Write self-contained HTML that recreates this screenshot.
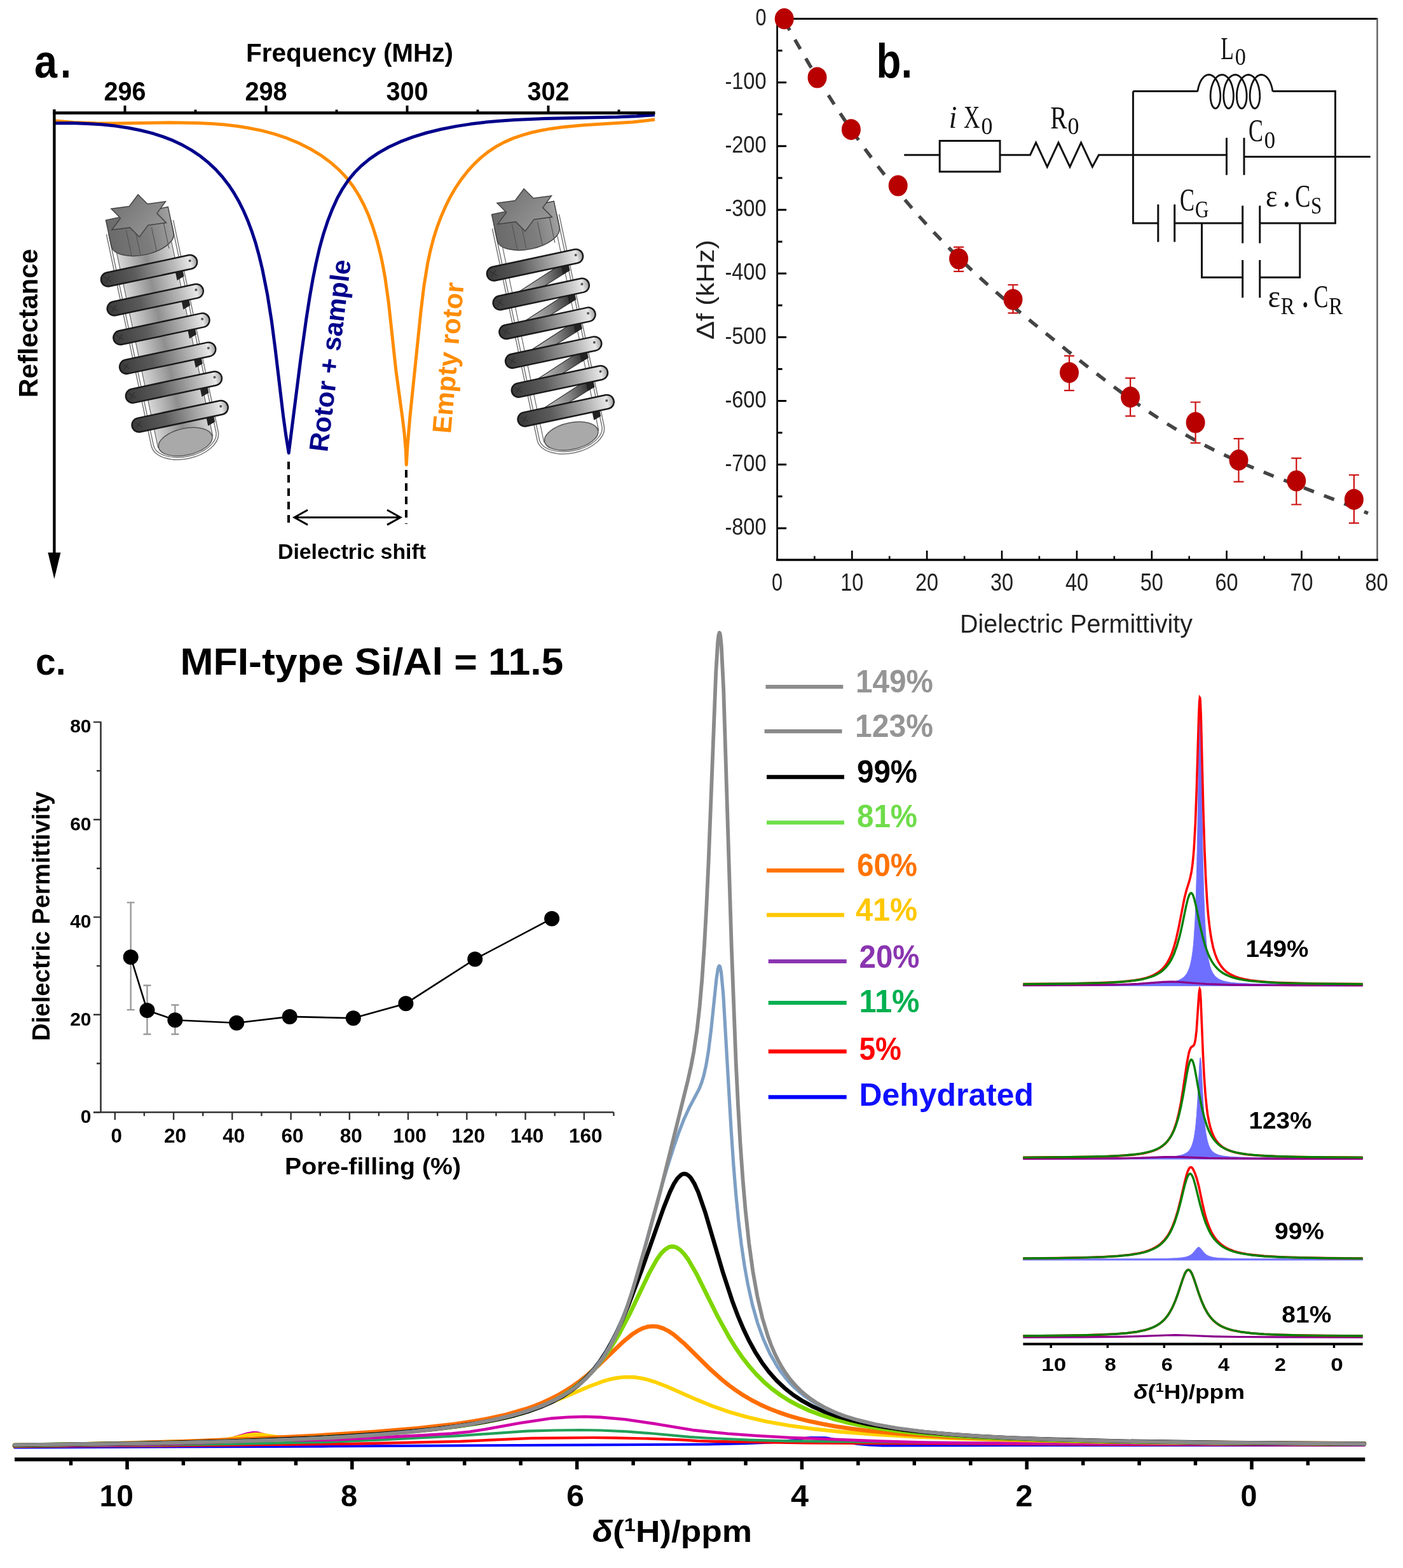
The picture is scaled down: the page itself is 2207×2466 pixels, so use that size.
<!DOCTYPE html>
<html><head><meta charset="utf-8"><title>Figure</title>
<style>html,body{margin:0;padding:0;background:#fff;}svg{display:block;}</style></head>
<body><svg width="2207" height="2466" viewBox="0 0 2207 2466">
<defs>
<linearGradient id="barFill" x1="0" y1="0" x2="1" y2="0">
 <stop offset="0" stop-color="#3a3a3a"/><stop offset="0.35" stop-color="#5c5c5c"/>
 <stop offset="0.75" stop-color="#b8b8b8"/><stop offset="0.93" stop-color="#e8e8e8"/><stop offset="1" stop-color="#9a9a9a"/>
</linearGradient>
<linearGradient id="rotorFillL" x1="0" y1="0" x2="1" y2="0">
 <stop offset="0" stop-color="#d8d8d8"/><stop offset="0.5" stop-color="#8f8f8f"/><stop offset="1" stop-color="#d8d8d8"/>
</linearGradient>
<linearGradient id="backW" x1="0" y1="0" x2="1" y2="0">
 <stop offset="0" stop-color="#d0d0d0"/><stop offset="0.6" stop-color="#888"/><stop offset="1" stop-color="#333"/>
</linearGradient>
<linearGradient id="capFill" x1="0" y1="0" x2="1" y2="0">
 <stop offset="0" stop-color="#6a6a6a"/><stop offset="0.6" stop-color="#7d7d7d"/><stop offset="1" stop-color="#a0a0a0"/>
</linearGradient>
<linearGradient id="starFill" x1="0" y1="0" x2="1" y2="1">
 <stop offset="0" stop-color="#6e6e6e"/><stop offset="1" stop-color="#9c9c9c"/>
</linearGradient>
</defs>
<rect width="2207" height="2466" fill="#fff"/>
<path d="M86.2 190L115.9 192.6L150.3 193.8L183.4 193.9L267.2 192.8L311.3 193.4L333.3 194.5L352.6 196.1L371.8 198.3L389.6 201L411.7 205.4L432.3 210.9L452.4 217.7L470.9 225.4L488.8 234.5L504.9 244.3L520.1 255.5L534.1 267.9L545.3 279.8L555.2 292.7L564 306.5L572.3 322L580 339.3L586.9 358.2L593.2 378.7L598.7 400.6L602.4 418.1L605.6 435.7L611.3 475.9L622.9 582.9L633 656.5L635.9 679.9L638.3 707L639.2 731L641.1 700L645 654.5L662 490.1L667.1 448.3L672.6 414.6L677 394.1L681.8 375.6L687.2 358.4L693.5 341.5L700.7 324.9L708.3 309.7L716.8 295.1L725.6 282.1L735.8 269L746.2 257.6L757.4 247.1L768.6 238.3L780.6 230.4L793.2 223.6L807.4 217.4L822.3 212.3L835.7 208.5L850.5 205.2L866.6 202.4L884 200L918.3 196.8L995.2 191.9L1014 190.1L1030.1 187.9" fill="none" stroke="#ff8c00" stroke-width="5" stroke-linejoin="round"/>
<path d="M85.7 193.7L112.2 193.6L137.1 194.4L159.7 195.8L181.6 198.1L202.5 201.2L221.3 205L239.8 209.7L256.8 215.1L272.5 221.2L287.4 228.3L301.6 236.4L315.1 245.5L327.7 255.6L339.4 266.6L350.1 278.5L359.9 291.2L368.3 303.9L376 317.3L383.3 332L390.2 348.1L396.4 364.7L402.2 382.6L407.5 401.8L412.6 423L420.4 461.9L427.3 505.2L432.8 547.2L445.5 653.8L449.8 684.9L454.2 712.4L472.9 565.1L481.7 502.2L487.2 467L492.4 437.4L497.2 413.7L502.4 391.2L508.5 369L515.3 348.2L522.8 328.9L530.8 311.3L538.9 296.8L548.1 283.1L557.6 271.6L568.1 261L581.2 250.1L595.5 240.4L611.6 231.3L629.7 222.9L649.8 215.4L670.5 209L693.9 203.3L718.8 198.4L740.1 195.1L761.5 192.4L785.3 190.2L810.2 188.5L856.7 186.6L970.8 184.1L1001.6 182.7L1029.9 180.7" fill="none" stroke="#00008b" stroke-width="5" stroke-linejoin="round"/>
<line x1="83" y1="177.6" x2="1030.5" y2="177.6" stroke="#000" stroke-width="4.6"/>
<line x1="85.4" y1="172" x2="85.4" y2="872" stroke="#000" stroke-width="4.4"/>
<polygon points="75.4,869 95.4,869 85.4,910.6" fill="#000"/>
<line x1="196.5" y1="178" x2="196.5" y2="166" stroke="#000" stroke-width="4"/>
<line x1="307.5" y1="178" x2="307.5" y2="172.5" stroke="#000" stroke-width="4"/>
<line x1="418.5" y1="178" x2="418.5" y2="166" stroke="#000" stroke-width="4"/>
<line x1="529.5" y1="178" x2="529.5" y2="172.5" stroke="#000" stroke-width="4"/>
<line x1="640.5" y1="178" x2="640.5" y2="166" stroke="#000" stroke-width="4"/>
<line x1="751.5" y1="178" x2="751.5" y2="172.5" stroke="#000" stroke-width="4"/>
<line x1="862.5" y1="178" x2="862.5" y2="166" stroke="#000" stroke-width="4"/>
<line x1="973.5" y1="178" x2="973.5" y2="172.5" stroke="#000" stroke-width="4"/>
<text x="196.5" y="158" font-family="Liberation Sans, Arial, sans-serif" font-weight="bold" font-size="43" text-anchor="middle" textLength="66" lengthAdjust="spacingAndGlyphs">296</text>
<text x="418.5" y="158" font-family="Liberation Sans, Arial, sans-serif" font-weight="bold" font-size="43" text-anchor="middle" textLength="66" lengthAdjust="spacingAndGlyphs">298</text>
<text x="640.5" y="158" font-family="Liberation Sans, Arial, sans-serif" font-weight="bold" font-size="43" text-anchor="middle" textLength="66" lengthAdjust="spacingAndGlyphs">300</text>
<text x="862.5" y="158" font-family="Liberation Sans, Arial, sans-serif" font-weight="bold" font-size="43" text-anchor="middle" textLength="66" lengthAdjust="spacingAndGlyphs">302</text>
<text x="387" y="97" font-family="Liberation Sans, Arial, sans-serif" font-weight="bold" font-size="41" textLength="326" lengthAdjust="spacingAndGlyphs">Frequency (MHz)</text>
<text x="54" y="122" font-family="Liberation Sans, Arial, sans-serif" font-weight="bold" font-size="74" textLength="36" lengthAdjust="spacingAndGlyphs">a</text>
<text x="95" y="122" font-family="Liberation Sans, Arial, sans-serif" font-weight="bold" font-size="74" textLength="17" lengthAdjust="spacingAndGlyphs">.</text>
<text transform="translate(58.5,625.3) rotate(-90)" font-family="Liberation Sans, Arial, sans-serif" font-weight="bold" font-size="42" textLength="234" lengthAdjust="spacingAndGlyphs">Reflectance</text>
<text transform="translate(515.1,711.8) rotate(-83)" font-family="Liberation Sans, Arial, sans-serif" font-weight="bold" font-size="42" fill="#00008b" textLength="304" lengthAdjust="spacingAndGlyphs">Rotor + sample</text>
<text transform="translate(709,682.5) rotate(-85)" font-family="Liberation Sans, Arial, sans-serif" font-weight="bold" font-size="42" fill="#ff8c00" textLength="238" lengthAdjust="spacingAndGlyphs">Empty rotor</text>
<line x1="454" y1="726" x2="454" y2="824" stroke="#000" stroke-width="4" stroke-dasharray="12 9"/>
<line x1="639" y1="739" x2="639" y2="824" stroke="#000" stroke-width="4" stroke-dasharray="12 9"/>
<path d="M463,813.7 L630,813.7 M484,802 L463,813.7 L484,825.4 M609,802 L630,813.7 L609,825.4" fill="none" stroke="#000" stroke-width="3"/>
<text x="437" y="879" font-family="Liberation Sans, Arial, sans-serif" font-weight="bold" font-size="34" textLength="233" lengthAdjust="spacingAndGlyphs">Dielectric shift</text>
<g transform="translate(234.5,425.8) rotate(-12)">
<path d="M-52,-70 L-52,270 A52,30 0 0 0 52,270 L52,-70" fill="none" stroke="#777" stroke-width="5"/>
<path d="M-52,-70 L-52,270 A52,30 0 0 0 52,270 L52,-70" fill="none" stroke="#fff" stroke-width="2"/>
<rect x="-44" y="-60" width="88" height="335" fill="url(#rotorFillL)" stroke="#666" stroke-width="1.2"/>
<ellipse cx="0" cy="275" rx="43" ry="21" fill="#a9a9a9" stroke="#555" stroke-width="1.5"/>
<path d="M40,8 L52,4 L52,20 L40,24 Z" fill="#222"/>
<path d="M40,54.8 L52,50.8 L52,66.8 L40,70.8 Z" fill="#222"/>
<path d="M40,101.6 L52,97.6 L52,113.6 L40,117.6 Z" fill="#222"/>
<path d="M40,148.4 L52,144.4 L52,160.4 L40,164.4 Z" fill="#222"/>
<path d="M40,195.2 L52,191.2 L52,207.2 L40,211.2 Z" fill="#222"/>
<path d="M40,242 L52,238 L52,254 L40,258 Z" fill="#222"/>
<path d="M-50,-92 L-50,-50 A50,24 0 0 0 50,-50 L50,-92 Z" fill="url(#capFill)" stroke="#444" stroke-width="1.5"/>
<line x1="-22" y1="-70" x2="-22" y2="-28" stroke="#555" stroke-width="1.2"/>
<line x1="-8" y1="-62" x2="-8" y2="-28" stroke="#555" stroke-width="1.2"/>
<line x1="18" y1="-66" x2="18" y2="-28" stroke="#555" stroke-width="1.2"/>
<line x1="38" y1="-76" x2="38" y2="-28" stroke="#555" stroke-width="1.2"/>
<polygon points="8,-120.8 19.4,-103.3 48,-101 30.8,-85.7 42,-68.2 13.4,-70.4 -4,-55.2 -15.4,-72.7 -44,-75 -26.8,-90.3 -38,-107.8 -9.4,-105.6" fill="url(#starFill)" stroke="#444" stroke-width="1.5"/>
<rect x="-77" y="-11" width="154" height="22" rx="11" fill="url(#barFill)" stroke="#1a1a1a" stroke-width="2.5"/>
<path d="M-71,-5 l9,9 M-71,4 l9,-9" stroke="#333" stroke-width="1.5"/>
<circle cx="66" cy="-2" r="2" fill="#555"/>
<rect x="-77" y="35.8" width="154" height="22" rx="11" fill="url(#barFill)" stroke="#1a1a1a" stroke-width="2.5"/>
<path d="M-71,41.8 l9,9 M-71,50.8 l9,-9" stroke="#333" stroke-width="1.5"/>
<circle cx="66" cy="44.8" r="2" fill="#555"/>
<rect x="-77" y="82.6" width="154" height="22" rx="11" fill="url(#barFill)" stroke="#1a1a1a" stroke-width="2.5"/>
<path d="M-71,88.6 l9,9 M-71,97.6 l9,-9" stroke="#333" stroke-width="1.5"/>
<circle cx="66" cy="91.6" r="2" fill="#555"/>
<rect x="-77" y="129.4" width="154" height="22" rx="11" fill="url(#barFill)" stroke="#1a1a1a" stroke-width="2.5"/>
<path d="M-71,135.4 l9,9 M-71,144.4 l9,-9" stroke="#333" stroke-width="1.5"/>
<circle cx="66" cy="138.4" r="2" fill="#555"/>
<rect x="-77" y="176.2" width="154" height="22" rx="11" fill="url(#barFill)" stroke="#1a1a1a" stroke-width="2.5"/>
<path d="M-71,182.2 l9,9 M-71,191.2 l9,-9" stroke="#333" stroke-width="1.5"/>
<circle cx="66" cy="185.2" r="2" fill="#555"/>
<rect x="-77" y="223" width="154" height="22" rx="11" fill="url(#barFill)" stroke="#1a1a1a" stroke-width="2.5"/>
<path d="M-71,229 l9,9 M-71,238 l9,-9" stroke="#333" stroke-width="1.5"/>
<circle cx="66" cy="232" r="2" fill="#555"/>
</g>
<g transform="translate(841.5,416.8) rotate(-12)">
<path d="M-52,-70 L-52,270 A52,30 0 0 0 52,270 L52,-70" fill="none" stroke="#777" stroke-width="5"/>
<path d="M-52,-70 L-52,270 A52,30 0 0 0 52,270 L52,-70" fill="none" stroke="#fff" stroke-width="2"/>
<rect x="-44" y="-60" width="88" height="335" fill="#fff" stroke="#666" stroke-width="1.2"/>
<path d="M44,6 L-44,40 L-44,54 L44,22 Z" fill="url(#backW)" stroke="#333" stroke-width="1.2"/>
<path d="M44,52.8 L-44,86.8 L-44,100.8 L44,68.8 Z" fill="url(#backW)" stroke="#333" stroke-width="1.2"/>
<path d="M44,99.6 L-44,133.6 L-44,147.6 L44,115.6 Z" fill="url(#backW)" stroke="#333" stroke-width="1.2"/>
<path d="M44,146.4 L-44,180.4 L-44,194.4 L44,162.4 Z" fill="url(#backW)" stroke="#333" stroke-width="1.2"/>
<path d="M44,193.2 L-44,227.2 L-44,241.2 L44,209.2 Z" fill="url(#backW)" stroke="#333" stroke-width="1.2"/>
<ellipse cx="0" cy="275" rx="43" ry="21" fill="#a9a9a9" stroke="#555" stroke-width="1.5"/>
<path d="M40,8 L52,4 L52,20 L40,24 Z" fill="#222"/>
<path d="M40,54.8 L52,50.8 L52,66.8 L40,70.8 Z" fill="#222"/>
<path d="M40,101.6 L52,97.6 L52,113.6 L40,117.6 Z" fill="#222"/>
<path d="M40,148.4 L52,144.4 L52,160.4 L40,164.4 Z" fill="#222"/>
<path d="M40,195.2 L52,191.2 L52,207.2 L40,211.2 Z" fill="#222"/>
<path d="M40,242 L52,238 L52,254 L40,258 Z" fill="#222"/>
<path d="M-50,-92 L-50,-50 A50,24 0 0 0 50,-50 L50,-92 Z" fill="url(#capFill)" stroke="#444" stroke-width="1.5"/>
<line x1="-22" y1="-70" x2="-22" y2="-28" stroke="#555" stroke-width="1.2"/>
<line x1="-8" y1="-62" x2="-8" y2="-28" stroke="#555" stroke-width="1.2"/>
<line x1="18" y1="-66" x2="18" y2="-28" stroke="#555" stroke-width="1.2"/>
<line x1="38" y1="-76" x2="38" y2="-28" stroke="#555" stroke-width="1.2"/>
<polygon points="8,-120.8 19.4,-103.3 48,-101 30.8,-85.7 42,-68.2 13.4,-70.4 -4,-55.2 -15.4,-72.7 -44,-75 -26.8,-90.3 -38,-107.8 -9.4,-105.6" fill="url(#starFill)" stroke="#444" stroke-width="1.5"/>
<rect x="-77" y="-11" width="154" height="22" rx="11" fill="url(#barFill)" stroke="#1a1a1a" stroke-width="2.5"/>
<path d="M-71,-5 l9,9 M-71,4 l9,-9" stroke="#333" stroke-width="1.5"/>
<circle cx="66" cy="-2" r="2" fill="#555"/>
<rect x="-77" y="35.8" width="154" height="22" rx="11" fill="url(#barFill)" stroke="#1a1a1a" stroke-width="2.5"/>
<path d="M-71,41.8 l9,9 M-71,50.8 l9,-9" stroke="#333" stroke-width="1.5"/>
<circle cx="66" cy="44.8" r="2" fill="#555"/>
<rect x="-77" y="82.6" width="154" height="22" rx="11" fill="url(#barFill)" stroke="#1a1a1a" stroke-width="2.5"/>
<path d="M-71,88.6 l9,9 M-71,97.6 l9,-9" stroke="#333" stroke-width="1.5"/>
<circle cx="66" cy="91.6" r="2" fill="#555"/>
<rect x="-77" y="129.4" width="154" height="22" rx="11" fill="url(#barFill)" stroke="#1a1a1a" stroke-width="2.5"/>
<path d="M-71,135.4 l9,9 M-71,144.4 l9,-9" stroke="#333" stroke-width="1.5"/>
<circle cx="66" cy="138.4" r="2" fill="#555"/>
<rect x="-77" y="176.2" width="154" height="22" rx="11" fill="url(#barFill)" stroke="#1a1a1a" stroke-width="2.5"/>
<path d="M-71,182.2 l9,9 M-71,191.2 l9,-9" stroke="#333" stroke-width="1.5"/>
<circle cx="66" cy="185.2" r="2" fill="#555"/>
<rect x="-77" y="223" width="154" height="22" rx="11" fill="url(#barFill)" stroke="#1a1a1a" stroke-width="2.5"/>
<path d="M-71,229 l9,9 M-71,238 l9,-9" stroke="#333" stroke-width="1.5"/>
<circle cx="66" cy="232" r="2" fill="#555"/>
</g>
<line x1="1222.6" y1="29.5" x2="2167" y2="29.5" stroke="#000" stroke-width="3"/>
<line x1="1222.6" y1="28" x2="1222.6" y2="882" stroke="#000" stroke-width="2.8"/>
<line x1="2166.5" y1="28" x2="2166.5" y2="882" stroke="#555" stroke-width="2.3"/>
<line x1="1221" y1="880.5" x2="2168" y2="880.5" stroke="#000" stroke-width="3.6"/>
<line x1="1222.6" y1="79.6" x2="1230.6" y2="79.6" stroke="#000" stroke-width="3"/>
<line x1="1222.6" y1="129.7" x2="1237.1" y2="129.7" stroke="#000" stroke-width="3"/>
<line x1="1222.6" y1="179.7" x2="1230.6" y2="179.7" stroke="#000" stroke-width="3"/>
<line x1="1222.6" y1="229.8" x2="1237.1" y2="229.8" stroke="#000" stroke-width="3"/>
<line x1="1222.6" y1="279.9" x2="1230.6" y2="279.9" stroke="#000" stroke-width="3"/>
<line x1="1222.6" y1="330" x2="1237.1" y2="330" stroke="#000" stroke-width="3"/>
<line x1="1222.6" y1="380.1" x2="1230.6" y2="380.1" stroke="#000" stroke-width="3"/>
<line x1="1222.6" y1="430.1" x2="1237.1" y2="430.1" stroke="#000" stroke-width="3"/>
<line x1="1222.6" y1="480.2" x2="1230.6" y2="480.2" stroke="#000" stroke-width="3"/>
<line x1="1222.6" y1="530.3" x2="1237.1" y2="530.3" stroke="#000" stroke-width="3"/>
<line x1="1222.6" y1="580.4" x2="1230.6" y2="580.4" stroke="#000" stroke-width="3"/>
<line x1="1222.6" y1="630.5" x2="1237.1" y2="630.5" stroke="#000" stroke-width="3"/>
<line x1="1222.6" y1="680.5" x2="1230.6" y2="680.5" stroke="#000" stroke-width="3"/>
<line x1="1222.6" y1="730.6" x2="1237.1" y2="730.6" stroke="#000" stroke-width="3"/>
<line x1="1222.6" y1="780.7" x2="1230.6" y2="780.7" stroke="#000" stroke-width="3"/>
<line x1="1222.6" y1="830.8" x2="1237.1" y2="830.8" stroke="#000" stroke-width="3"/>
<text x="1205.5" y="39.8" font-family="Liberation Sans, Arial, sans-serif" font-size="37" fill="#222" text-anchor="end" textLength="17" lengthAdjust="spacingAndGlyphs">0</text>
<text x="1205.5" y="140" font-family="Liberation Sans, Arial, sans-serif" font-size="37" fill="#222" text-anchor="end" textLength="65" lengthAdjust="spacingAndGlyphs">-100</text>
<text x="1205.5" y="240.1" font-family="Liberation Sans, Arial, sans-serif" font-size="37" fill="#222" text-anchor="end" textLength="65" lengthAdjust="spacingAndGlyphs">-200</text>
<text x="1205.5" y="340.3" font-family="Liberation Sans, Arial, sans-serif" font-size="37" fill="#222" text-anchor="end" textLength="65" lengthAdjust="spacingAndGlyphs">-300</text>
<text x="1205.5" y="440.4" font-family="Liberation Sans, Arial, sans-serif" font-size="37" fill="#222" text-anchor="end" textLength="65" lengthAdjust="spacingAndGlyphs">-400</text>
<text x="1205.5" y="540.6" font-family="Liberation Sans, Arial, sans-serif" font-size="37" fill="#222" text-anchor="end" textLength="65" lengthAdjust="spacingAndGlyphs">-500</text>
<text x="1205.5" y="640.8" font-family="Liberation Sans, Arial, sans-serif" font-size="37" fill="#222" text-anchor="end" textLength="65" lengthAdjust="spacingAndGlyphs">-600</text>
<text x="1205.5" y="740.9" font-family="Liberation Sans, Arial, sans-serif" font-size="37" fill="#222" text-anchor="end" textLength="65" lengthAdjust="spacingAndGlyphs">-700</text>
<text x="1205.5" y="841.1" font-family="Liberation Sans, Arial, sans-serif" font-size="37" fill="#222" text-anchor="end" textLength="65" lengthAdjust="spacingAndGlyphs">-800</text>
<line x1="1281.3" y1="880.5" x2="1281.3" y2="874.5" stroke="#000" stroke-width="2.6"/>
<line x1="1340.3" y1="880.5" x2="1340.3" y2="865.9" stroke="#000" stroke-width="2.6"/>
<line x1="1399.2" y1="880.5" x2="1399.2" y2="874.5" stroke="#000" stroke-width="2.6"/>
<line x1="1458.1" y1="880.5" x2="1458.1" y2="865.9" stroke="#000" stroke-width="2.6"/>
<line x1="1517.1" y1="880.5" x2="1517.1" y2="874.5" stroke="#000" stroke-width="2.6"/>
<line x1="1576" y1="880.5" x2="1576" y2="865.9" stroke="#000" stroke-width="2.6"/>
<line x1="1634.9" y1="880.5" x2="1634.9" y2="874.5" stroke="#000" stroke-width="2.6"/>
<line x1="1693.9" y1="880.5" x2="1693.9" y2="865.9" stroke="#000" stroke-width="2.6"/>
<line x1="1752.8" y1="880.5" x2="1752.8" y2="874.5" stroke="#000" stroke-width="2.6"/>
<line x1="1811.8" y1="880.5" x2="1811.8" y2="865.9" stroke="#000" stroke-width="2.6"/>
<line x1="1870.7" y1="880.5" x2="1870.7" y2="874.5" stroke="#000" stroke-width="2.6"/>
<line x1="1929.6" y1="880.5" x2="1929.6" y2="865.9" stroke="#000" stroke-width="2.6"/>
<line x1="1988.6" y1="880.5" x2="1988.6" y2="874.5" stroke="#000" stroke-width="2.6"/>
<line x1="2047.5" y1="880.5" x2="2047.5" y2="865.9" stroke="#000" stroke-width="2.6"/>
<line x1="2106.4" y1="880.5" x2="2106.4" y2="874.5" stroke="#000" stroke-width="2.6"/>
<text x="1222.4" y="928.7" font-family="Liberation Sans, Arial, sans-serif" font-size="39" fill="#222" text-anchor="middle" textLength="17" lengthAdjust="spacingAndGlyphs">0</text>
<text x="1340.3" y="928.7" font-family="Liberation Sans, Arial, sans-serif" font-size="39" fill="#222" text-anchor="middle" textLength="36" lengthAdjust="spacingAndGlyphs">10</text>
<text x="1458.1" y="928.7" font-family="Liberation Sans, Arial, sans-serif" font-size="39" fill="#222" text-anchor="middle" textLength="36" lengthAdjust="spacingAndGlyphs">20</text>
<text x="1576" y="928.7" font-family="Liberation Sans, Arial, sans-serif" font-size="39" fill="#222" text-anchor="middle" textLength="36" lengthAdjust="spacingAndGlyphs">30</text>
<text x="1693.9" y="928.7" font-family="Liberation Sans, Arial, sans-serif" font-size="39" fill="#222" text-anchor="middle" textLength="36" lengthAdjust="spacingAndGlyphs">40</text>
<text x="1811.8" y="928.7" font-family="Liberation Sans, Arial, sans-serif" font-size="39" fill="#222" text-anchor="middle" textLength="36" lengthAdjust="spacingAndGlyphs">50</text>
<text x="1929.6" y="928.7" font-family="Liberation Sans, Arial, sans-serif" font-size="39" fill="#222" text-anchor="middle" textLength="36" lengthAdjust="spacingAndGlyphs">60</text>
<text x="2047.5" y="928.7" font-family="Liberation Sans, Arial, sans-serif" font-size="39" fill="#222" text-anchor="middle" textLength="36" lengthAdjust="spacingAndGlyphs">70</text>
<text x="2165.4" y="928.7" font-family="Liberation Sans, Arial, sans-serif" font-size="39" fill="#222" text-anchor="middle" textLength="36" lengthAdjust="spacingAndGlyphs">80</text>
<text x="1510" y="995" font-family="Liberation Sans, Arial, sans-serif" font-size="40.5" fill="#222" textLength="366" lengthAdjust="spacingAndGlyphs">Dielectric Permittivity</text>
<text transform="translate(1123.3,534) rotate(-90)" font-family="Liberation Sans, Arial, sans-serif" font-size="38" fill="#222" textLength="157" lengthAdjust="spacingAndGlyphs">Δf (kHz)</text>
<path d="M1234 32.7L1253.9 68.4L1273.8 102.6L1293.8 135.2L1313.7 166.4L1333.6 196.1L1355.1 226.7L1376.5 255.7L1398 283.3L1419.4 309.6L1440.9 334.6L1463.9 360L1486.9 384.1L1509.9 407.1L1534.4 430.3L1560.4 453.8L1588 477.5L1624.8 507.9L1680 552.3L1718.3 582.6L1750.5 607.1L1779.6 628.5L1807.2 647.7L1833.2 664.8L1859.3 680.7L1882.3 693.6L1906.8 706.3L1931.3 718.1L1958.9 730.5L2001.8 748.2L2106 788.5L2152 807.2" fill="none" stroke="#444" stroke-width="5.5" stroke-dasharray="17 17"/>
<ellipse cx="1233.7" cy="29.6" rx="15" ry="16.5" fill="#b80000"/>
<ellipse cx="1285.5" cy="122" rx="15" ry="16.5" fill="#b80000"/>
<ellipse cx="1338.9" cy="203.7" rx="15" ry="16.5" fill="#b80000"/>
<ellipse cx="1412.7" cy="292" rx="15" ry="16.5" fill="#b80000"/>
<path d="M1508.1 388.7V426.8M1500.1 388.7H1516.1M1500.1 426.8H1516.1" stroke="#cc1111" stroke-width="2.2" fill="none"/>
<ellipse cx="1508.1" cy="407" rx="15" ry="16.5" fill="#b80000"/>
<path d="M1593.5 448V492.4M1585.5 448H1601.5M1585.5 492.4H1601.5" stroke="#cc1111" stroke-width="2.2" fill="none"/>
<ellipse cx="1593.5" cy="471" rx="15" ry="16.5" fill="#b80000"/>
<path d="M1682 559.7V614.2M1674 559.7H1690M1674 614.2H1690" stroke="#cc1111" stroke-width="2.2" fill="none"/>
<ellipse cx="1682" cy="585.9" rx="15" ry="16.5" fill="#b80000"/>
<path d="M1778.1 594.6V654.3M1770.1 594.6H1786.1M1770.1 654.3H1786.1" stroke="#cc1111" stroke-width="2.2" fill="none"/>
<ellipse cx="1778.1" cy="624.6" rx="15" ry="16.5" fill="#b80000"/>
<path d="M1880.6 632.5V696.6M1872.6 632.5H1888.6M1872.6 696.6H1888.6" stroke="#cc1111" stroke-width="2.2" fill="none"/>
<ellipse cx="1880.6" cy="664.5" rx="15" ry="16.5" fill="#b80000"/>
<path d="M1948.5 689.9V757.7M1940.5 689.9H1956.5M1940.5 757.7H1956.5" stroke="#cc1111" stroke-width="2.2" fill="none"/>
<ellipse cx="1948.5" cy="723.6" rx="15" ry="16.5" fill="#b80000"/>
<path d="M2039.3 720.7V793.5M2031.3 720.7H2047.3M2031.3 793.5H2047.3" stroke="#cc1111" stroke-width="2.2" fill="none"/>
<ellipse cx="2039.3" cy="756.3" rx="15" ry="16.5" fill="#b80000"/>
<path d="M2129.9 747V822.7M2121.9 747H2137.9M2121.9 822.7H2137.9" stroke="#cc1111" stroke-width="2.2" fill="none"/>
<ellipse cx="2129.9" cy="785.4" rx="15" ry="16.5" fill="#b80000"/>
<text x="1378.6" y="121.6" font-family="Liberation Sans, Arial, sans-serif" font-weight="bold" font-size="76" textLength="56.5" lengthAdjust="spacingAndGlyphs">b.</text>
<path d="M1422.2 243.7 H1478.2 M1478.2 221.6 H1573 V270 H1478.2 Z M1573 243.7 H1620.5 L1629.6 224.3 L1647.3 262.4 L1665 224.3 L1683 262.4 L1700.6 224.3 L1718.4 262.4 L1728.4 243.7 H1929.5 M1782.4 143.5 V351.1 H1821.8 M1782.4 143.5 H1883.8 M2002 143.5 H2100.5 V351.1 H1981.8 M1957 246.4 H2155.7 M1847.7 351.1 H1954.7 M1890.5 351.1 V436.3 H1954.7 M1981.8 436.3 H2044.8 V351.1 M1929.5 216.7 V275.3 M1957 216.7 V275.3 M1821.8 321.4 V380.4 M1847.7 321.4 V380.4 M1954.7 323.4 V382.6 M1981.8 323.4 V382.6 M1954.7 409 V468.2 M1981.8 409 V468.2" fill="none" stroke="#111" stroke-width="3" stroke-linejoin="miter"/>
<path d="M1883.8 144L1885.3 136.6L1887.3 130.7L1889 127.2L1890.4 124.8L1893.6 121L1896 119.2L1897.9 118.2L1899.8 117.7L1901.7 117.5L1903.6 117.7L1905.5 118.3L1907.4 119.3L1909.2 120.6L1910.9 122.3L1913 125.1L1914.4 127.5L1916.1 131L1918.3 138L1919.5 145.4L1919.8 149.7L1919.7 153.8L1919.4 157.6L1918.7 161.1L1917.8 164.1L1916.7 166.6L1915.4 168.6L1913.6 170.1L1912.5 170.5L1911 170.4L1909.9 169.8L1908.8 168.9L1907.5 167.2L1906.6 165.5L1905.2 161.1L1904.3 155.7L1904.1 149.7L1904.6 143.3L1905.8 136.9L1907.4 132L1909.5 127.5L1911.9 123.6L1914.7 120.6L1917.7 118.6L1920.9 117.6L1924.1 117.7L1927.2 118.8L1929.1 120L1931.4 122.1L1933.5 124.8L1935.4 128L1937 131.6L1938.3 135.6L1939.3 139.7L1940 144L1940.4 148.3L1940.4 152.4L1940.2 156.4L1939.4 160.8L1938.6 163.9L1937.1 167L1935.8 168.8L1934 170.2L1932.9 170.5L1931.4 170.3L1930.3 169.7L1929.3 168.7L1927.4 165.7L1925.9 161.4L1925 156L1924.7 150L1925.2 143.6L1926.2 138.3L1927.6 133.2L1929.6 128.6L1931.9 124.6L1934.6 121.4L1937.6 119.1L1940.7 117.8L1943.3 117.5L1946.5 118.2L1948.9 119.4L1951.3 121.4L1953.5 123.9L1955.4 126.9L1957.1 130.4L1958.6 134.2L1959.7 138.3L1960.5 142.6L1961 146.9L1961.1 152.1L1960.9 156L1960.2 160.5L1959.3 163.7L1957.9 166.8L1956.3 169.1L1954.5 170.3L1953.3 170.5L1952.2 170.3L1951.1 169.8L1950 168.8L1948.1 165.9L1946.6 161.6L1945.7 156.4L1945.4 150.4L1945.8 144L1946.8 138.7L1948.2 133.6L1950.1 128.9L1952.4 124.8L1954.5 122.1L1957.4 119.6L1960.5 118L1963.7 117.5L1966.3 117.9L1968.8 118.9L1971.2 120.6L1973.4 123L1975.5 125.8L1977.3 129.2L1978.8 132.9L1980 136.9L1981.1 142.2L1981.6 146.5L1981.8 151.7L1981.6 155.7L1980.9 160.3L1979.8 164.1L1978.4 167.2L1976.7 169.3L1974.9 170.4L1973.8 170.5L1972.6 170.2L1971.5 169.6L1970.5 168.6L1968.6 165.5L1967.4 161.9L1966.4 156.7L1966.1 151.7L1966.3 146.5L1966.9 141.1L1968.1 135.9L1969.4 132L1971.5 127.5L1973.4 124.3L1976.1 121.2L1978.5 119.3L1981.6 117.9L1984.2 117.5L1986.7 117.8L1989.9 119.2L1992.8 121.5L1995.5 124.8L1997.8 128.9L1999.7 133.6L2001.1 138.7L2002 144" fill="none" stroke="#111" stroke-width="2.8"/>
<text x="1492.8" y="200.8" font-family="Liberation Serif, Cambria, serif" font-size="51" fill="#111" font-style="italic" textLength="12.5" lengthAdjust="spacingAndGlyphs">i</text>
<text x="1516.0" y="200.8" font-family="Liberation Serif, Cambria, serif" font-size="51" fill="#111" textLength="25.5" lengthAdjust="spacingAndGlyphs">X</text>
<text x="1543.5" y="210.7" font-family="Liberation Serif, Cambria, serif" font-size="37" fill="#111" textLength="18" lengthAdjust="spacingAndGlyphs">0</text>
<text x="1652.2" y="201.7" font-family="Liberation Serif, Cambria, serif" font-size="51" fill="#111" textLength="26.2" lengthAdjust="spacingAndGlyphs">R</text>
<text x="1679.5" y="210.7" font-family="Liberation Serif, Cambria, serif" font-size="37" fill="#111" textLength="18" lengthAdjust="spacingAndGlyphs">0</text>
<text x="1920.2" y="92.8" font-family="Liberation Serif, Cambria, serif" font-size="51" fill="#111" textLength="20.6" lengthAdjust="spacingAndGlyphs">L</text>
<text x="1942.7" y="102.3" font-family="Liberation Serif, Cambria, serif" font-size="37" fill="#111" textLength="17.1" lengthAdjust="spacingAndGlyphs">0</text>
<text x="1964.1000000000001" y="222.3" font-family="Liberation Serif, Cambria, serif" font-size="51" fill="#111" textLength="23" lengthAdjust="spacingAndGlyphs">C</text>
<text x="1988.8" y="232.5" font-family="Liberation Serif, Cambria, serif" font-size="37" fill="#111" textLength="17.4" lengthAdjust="spacingAndGlyphs">0</text>
<text x="1855.9" y="330.8" font-family="Liberation Serif, Cambria, serif" font-size="51" fill="#111" textLength="23" lengthAdjust="spacingAndGlyphs">C</text>
<text x="1880.0" y="341.6" font-family="Liberation Serif, Cambria, serif" font-size="37" fill="#111" textLength="21.5" lengthAdjust="spacingAndGlyphs">G</text>
<text x="1991.1000000000001" y="325.2" font-family="Liberation Serif, Cambria, serif" font-size="51" fill="#111" textLength="18.5" lengthAdjust="spacingAndGlyphs">ε</text>
<text x="2019.2" y="325.2" font-family="Liberation Serif, Cambria, serif" font-size="51" fill="#111" font-weight="bold" textLength="9.4" lengthAdjust="spacingAndGlyphs">.</text>
<text x="2037.2" y="325.2" font-family="Liberation Serif, Cambria, serif" font-size="51" fill="#111" textLength="24.2" lengthAdjust="spacingAndGlyphs">C</text>
<text x="2062.1" y="335.8" font-family="Liberation Serif, Cambria, serif" font-size="37" fill="#111" textLength="17.3" lengthAdjust="spacingAndGlyphs">S</text>
<text x="1994.5" y="482.9" font-family="Liberation Serif, Cambria, serif" font-size="51" fill="#111" textLength="19.6" lengthAdjust="spacingAndGlyphs">ε</text>
<text x="2014.8" y="494.1" font-family="Liberation Serif, Cambria, serif" font-size="37" fill="#111" textLength="21.8" lengthAdjust="spacingAndGlyphs">R</text>
<text x="2048.7" y="482.9" font-family="Liberation Serif, Cambria, serif" font-size="51" fill="#111" font-weight="bold" textLength="9.1" lengthAdjust="spacingAndGlyphs">.</text>
<text x="2066.6" y="482.9" font-family="Liberation Serif, Cambria, serif" font-size="51" fill="#111" textLength="23" lengthAdjust="spacingAndGlyphs">C</text>
<text x="2090.2" y="494.1" font-family="Liberation Serif, Cambria, serif" font-size="37" fill="#111" textLength="21.9" lengthAdjust="spacingAndGlyphs">R</text>
<path d="M23 2276.5L520 2274.6L1114 2271.4L1168 2270.3L1213.5 2268.6L1250.5 2264.9L1267.5 2261.7L1275 2261L1298.5 2261.2L1304.5 2262.2L1319 2265.8L1348 2270.7L1366 2272.4L1388.5 2273.5L1590.5 2273L2146 2273" fill="none" stroke="#0000ff" stroke-width="4.0" stroke-linejoin="round" stroke-linecap="round"/>
<path d="M23 2275L248 2274L547 2270.8L723.5 2266.9L836.5 2261.8L932.5 2261L967.5 2261.3L1030 2262.8L1071 2264.4L1097.5 2266.2L1132.5 2267.2L1275 2269.5L1709 2271.7L2146 2272.5" fill="none" stroke="#ff0000" stroke-width="4.2" stroke-linejoin="round" stroke-linecap="round"/>
<path d="M23 2274.5L131 2274.1L247 2272.8L378.5 2270.6L520 2267.6L599 2264.5L721 2258.1L830 2250.7L872 2249.5L914.5 2249L944.5 2249.5L986 2251.3L1032.5 2255L1084.5 2259.9L1110 2261.5L1177.5 2264.6L1241 2266.4L1586 2269.9L1909.5 2271.5L2146 2272" fill="none" stroke="#22a05a" stroke-width="4.2" stroke-linejoin="round" stroke-linecap="round"/>
<path d="M23 2274L115.5 2273.7L196 2272.7L270.5 2271L340.5 2268.5L346 2267.8L352 2266.4L370 2260.4L390 2254.5L399.5 2253L407 2253.9L422.5 2258.4L443.5 2263.1L452 2264.5L459 2265L504 2264.8L529.5 2264.1L664 2257.4L710.5 2254.5L738.5 2251.8L762.5 2248.1L818 2238.1L868 2230.6L894 2228.7L920 2228L944.5 2228.9L983 2232.3L1032 2239.4L1089.5 2249.1L1145 2254.7L1190.5 2258L1243.5 2261L1384.5 2266.6L1461 2268.8L1577.5 2269.9L2146 2272" fill="none" stroke="#d000a8" stroke-width="4.6" stroke-linejoin="round" stroke-linecap="round"/>
<path d="M23 2273.1L196 2269.6L335 2265.5L348 2264.7L359 2263.5L369 2261.7L389 2257.1L401 2255.8L411 2256.3L432 2259.4L442 2260.4L455 2260.7L473 2260.2L536 2257L594 2253.4L644 2249.5L687 2245.2L723 2240.7L755 2235.8L784 2230.1L811 2223.7L836 2216.5L861 2207.8L884 2198.7L928 2180L947 2172.9L958 2169.7L968 2167.5L978 2166.1L988 2165.6L997.9 2166L1007.9 2167.4L1018.3 2169.7L1029.4 2173.1L1048.9 2180.5L1095.4 2201.1L1119.8 2211L1147.2 2220.6L1175.3 2228.6L1206.6 2235.8L1240.9 2241.9L1279 2247.2L1322 2251.7L1378 2256L1444 2259.7L1520 2262.7L1610 2265.3L1715 2267.3L1837 2268.9L2146 2271" fill="none" stroke="#ffd200" stroke-width="5.9" stroke-linejoin="round" stroke-linecap="round"/>
<path d="M23 2273.9L162 2270.8L285 2267.2L397 2262.9L498 2257.8L585 2252.3L657 2246.3L715 2239.7L740 2236L762 2232.3L797 2224.7L827 2216L841 2211.1L854 2205.8L867 2199.8L879 2193.6L890 2187.1L901 2180L912 2172.1L923 2163.4L942 2146.7L979 2111.3L994.3 2098.6L1003.1 2092.9L1011.3 2088.9L1019.2 2086.5L1026.9 2085.7L1034.8 2086.5L1042.8 2089L1051.1 2093.1L1060 2099L1075.7 2112.4L1114.4 2150.7L1135 2169.3L1146.6 2178.6L1158.3 2187.1L1170.2 2194.9L1182.4 2202L1195.8 2208.9L1209.9 2215.2L1224.7 2221L1240.4 2226.3L1257 2231.1L1275 2235.6L1294 2239.6L1314 2243.2L1338 2246.8L1364 2250L1423 2255.5L1494 2259.9L1579 2263.4L1682 2266.1L1807 2268L1959 2269.4L2146 2270.3" fill="none" stroke="#ff6e00" stroke-width="6.6" stroke-linejoin="round" stroke-linecap="round"/>
<path d="M23 2272.9L199 2270.4L341 2267.3L460 2263.1L561 2257.9L606 2254.8L647 2251.4L684 2247.7L718 2243.5L747 2239.2L774 2234.3L798 2229L820 2223L838 2217.1L854 2210.8L870 2203.3L884 2195.6L897 2187.2L910 2177.3L922 2166.7L934 2154.4L944 2142.7L954 2129.4L964 2114.4L974 2097.7L990.7 2066L1021.1 2002.5L1033 1981.1L1039.5 1971.9L1045.7 1965.5L1051.7 1961.7L1054.7 1960.7L1057.6 1960.4L1060.6 1960.7L1063.6 1961.6L1069.7 1965.5L1076.1 1972L1082.9 1981.3L1095.3 2002.8L1128.5 2069.6L1146.7 2102.7L1157 2119.3L1167.4 2134.4L1178 2148.1L1189 2160.7L1201.2 2172.9L1214 2184L1227.5 2194L1241.8 2203L1257 2211.1L1273 2218.4L1291 2225.2L1310 2231.2L1332 2236.9L1355 2241.7L1381 2246.1L1409 2250L1440 2253.4L1475 2256.4L1513 2259.1L1556 2261.4L1656 2265L1781 2267.6L1940 2269.5L2146 2270.6" fill="none" stroke="#7ed600" stroke-width="6.6" stroke-linejoin="round" stroke-linecap="round"/>
<path d="M23 2272.9L214 2270.1L367 2266.4L492 2261.5L546 2258.6L596 2255.3L642 2251.5L683 2247.4L720 2242.8L753 2237.8L783 2232.1L809 2226L832 2219.3L853 2211.6L869 2204.5L884 2196.5L898 2187.4L910 2178.1L922 2167L933 2154.9L943 2142L953 2126.9L962 2111.2L970 2095.5L979 2075.8L988 2054.1L1009.6 1996.8L1043.6 1900.5L1053.8 1874.7L1060.1 1861.8L1065.8 1853L1071.2 1847.8L1073.9 1846.4L1076.5 1846L1079.2 1846.5L1081.8 1847.8L1084.5 1850.1L1087.2 1853.2L1092.7 1862.3L1098.6 1875.5L1109.2 1906.2L1136.9 2000.2L1152 2046.3L1160.6 2069.2L1169.4 2090L1178.4 2108.8L1187.8 2125.9L1198.4 2142.6L1209.6 2157.6L1221.6 2171.1L1234.4 2183.2L1248.1 2194L1263 2203.7L1279 2212.3L1297 2220.2L1317 2227.4L1340 2233.9L1365 2239.6L1392 2244.4L1422 2248.7L1456 2252.5L1494 2255.8L1537 2258.7L1585 2261.2L1638 2263.3L1767 2266.7L1932 2269L2146 2270.5" fill="none" stroke="#000000" stroke-width="6.5" stroke-linejoin="round" stroke-linecap="round"/>
<path d="M23 2272.8L242 2269.6L331 2267.7L409 2265.3L479 2262.6L541 2259.4L597 2255.6L647 2251.3L693 2246.3L734 2240.6L771 2234.1L803 2226.9L831 2218.9L855 2210.2L877 2199.9L896 2188.5L911 2177.1L924 2165.1L936 2151.6L948 2135.3L959 2117.2L969 2097.5L978 2076.9L987.6 2051.4L995.4 2028L1003.5 2001.3L1039.1 1871.4L1049.2 1837.2L1059.1 1806.1L1068 1780.5L1076 1760L1084.1 1742.3L1099.6 1713L1103.5 1703.3L1106.9 1692.3L1110.9 1674.6L1114.6 1652L1118.7 1618.8L1127.1 1538.3L1129.4 1523.9L1130.5 1520.2L1131.5 1519L1132.3 1519.6L1133 1521.4L1134.5 1529.3L1137.7 1563L1150.2 1778.2L1153.9 1832.3L1157.7 1878.9L1161.8 1920.5L1166.2 1957.1L1171 1989.9L1176.4 2020L1183.6 2052.2L1191.7 2080.8L1200.8 2106.1L1211.1 2128.9L1222.6 2149L1228.9 2158.2L1235.5 2166.7L1242.5 2174.8L1249.9 2182.3L1258 2189.5L1266 2195.9L1275 2202.2L1284 2207.7L1304 2217.9L1326 2226.5L1351 2234.1L1379 2240.5L1411 2246.1L1447 2250.9L1489 2255.1L1536 2258.5L1590 2261.4L1652 2263.9L1724 2265.9L1903 2268.9L2146 2270.8" fill="none" stroke="#7d9fc4" stroke-width="5.2" stroke-linejoin="round" stroke-linecap="round"/>
<path d="M23 2272.4L159 2270.9L273 2269.1L370 2266.9L453 2264.2L525 2261L588 2257.1L644 2252.4L693 2246.9L739 2240.1L780 2232.1L816 2223L832 2218L847 2212.7L861 2207L874 2200.9L886 2194.4L897 2187.6L907 2180.5L917 2172.3L926 2163.9L934 2155.2L943 2144L951 2132.5L959 2119.2L966 2105.8L973 2090.5L980.1 2073L987 2053.9L994.2 2032L1015.9 1957.5L1039.6 1870.4L1081.9 1699.9L1087.2 1676.1L1091.5 1653.3L1096.4 1620.3L1100.6 1583.1L1104.4 1539.4L1108 1486.7L1111.3 1426.7L1114.6 1354.7L1126.2 1057.4L1129.1 1010.3L1130.4 999L1131.7 995L1132.5 996.2L1133.2 999.7L1134.8 1016L1138.2 1084.6L1150.8 1491.3L1157.6 1668.9L1161 1738.2L1164.6 1799.8L1168.5 1855L1172.7 1903.9L1178.2 1955.1L1184.4 2000L1191.4 2039.1L1199.3 2073L1208.3 2102.6L1213.2 2115.8L1218.5 2128.2L1224.1 2139.6L1230.1 2150.3L1236.5 2160.2L1243.4 2169.6L1251 2178.5L1259 2186.6L1267 2193.6L1276 2200.5L1286 2207.1L1296 2212.8L1307 2218.2L1319 2223.3L1332 2228.1L1345 2232.1L1376 2239.8L1411 2246.2L1451 2251.4L1497 2255.8L1551 2259.5L1614 2262.5L1688 2264.9L1775 2266.9L1877 2268.4L2146 2270.5" fill="none" stroke="#8a8a8a" stroke-width="5.8" stroke-linejoin="round" stroke-linecap="round"/>
<line x1="23" y1="2295.3" x2="2147.3" y2="2295.3" stroke="#000" stroke-width="6"/>
<path d="M111.5 2297V2304.5M200 2297V2311M288.4 2297V2304.5M376.9 2297V2304.5M465.4 2297V2304.5M553.8 2297V2311M642.2 2297V2304.5M730.7 2297V2304.5M819.1 2297V2304.5M907.6 2297V2311M996.1 2297V2304.5M1084.5 2297V2304.5M1173 2297V2304.5M1261.4 2297V2311M1349.9 2297V2304.5M1438.3 2297V2304.5M1526.8 2297V2304.5M1615.2 2297V2311M1703.7 2297V2304.5M1792.1 2297V2304.5M1880.5 2297V2304.5M1969 2297V2311M2057.4 2297V2304.5" stroke="#000" stroke-width="5.5"/>
<text x="183.3" y="2368.7" font-family="Liberation Sans, Arial, sans-serif" font-weight="bold" font-size="48.5" text-anchor="middle" textLength="53.4" lengthAdjust="spacingAndGlyphs">10</text>
<text x="549" y="2368.7" font-family="Liberation Sans, Arial, sans-serif" font-weight="bold" font-size="48.5" text-anchor="middle" textLength="26.2" lengthAdjust="spacingAndGlyphs">8</text>
<text x="905" y="2368.7" font-family="Liberation Sans, Arial, sans-serif" font-weight="bold" font-size="48.5" text-anchor="middle" textLength="28" lengthAdjust="spacingAndGlyphs">6</text>
<text x="1258" y="2368.7" font-family="Liberation Sans, Arial, sans-serif" font-weight="bold" font-size="48.5" text-anchor="middle" textLength="28" lengthAdjust="spacingAndGlyphs">4</text>
<text x="1611" y="2368.7" font-family="Liberation Sans, Arial, sans-serif" font-weight="bold" font-size="48.5" text-anchor="middle" textLength="27" lengthAdjust="spacingAndGlyphs">2</text>
<text x="1964.5" y="2368.7" font-family="Liberation Sans, Arial, sans-serif" font-weight="bold" font-size="48.5" text-anchor="middle" textLength="26" lengthAdjust="spacingAndGlyphs">0</text>
<text x="931.6" y="2424.5" font-family="Liberation Sans, Arial, sans-serif" font-weight="bold" font-size="49" textLength="251.5" lengthAdjust="spacingAndGlyphs"><tspan font-style="italic">δ</tspan>(<tspan font-size="30" dy="-17">1</tspan><tspan dy="17">H)/ppm</tspan></text>
<text x="56" y="1061.4" font-family="Liberation Sans, Arial, sans-serif" font-weight="bold" font-size="60" textLength="47.5" lengthAdjust="spacingAndGlyphs">c.</text>
<text x="283.4" y="1061.4" font-family="Liberation Sans, Arial, sans-serif" font-weight="bold" font-size="59.4" textLength="603" lengthAdjust="spacingAndGlyphs">MFI-type Si/Al = 11.5</text>
<line x1="1204.4" y1="1080.2" x2="1326.3" y2="1080.2" stroke="#8c8c8c" stroke-width="6.3"/>
<text x="1346" y="1089.2" font-family="Liberation Sans, Arial, sans-serif" font-weight="bold" font-size="50" fill="#959595" textLength="122" lengthAdjust="spacingAndGlyphs">149%</text>
<line x1="1202.6" y1="1150.2" x2="1324.5" y2="1150.2" stroke="#8a8a8a" stroke-width="6.3"/>
<text x="1345" y="1159.2" font-family="Liberation Sans, Arial, sans-serif" font-weight="bold" font-size="50" fill="#959595" textLength="123" lengthAdjust="spacingAndGlyphs">123%</text>
<line x1="1206" y1="1222" x2="1328" y2="1222" stroke="#000000" stroke-width="6.3"/>
<text x="1348" y="1231" font-family="Liberation Sans, Arial, sans-serif" font-weight="bold" font-size="50" fill="#000000" textLength="95" lengthAdjust="spacingAndGlyphs">99%</text>
<line x1="1206" y1="1293.7" x2="1328" y2="1293.7" stroke="#6fe04a" stroke-width="6.3"/>
<text x="1348" y="1301" font-family="Liberation Sans, Arial, sans-serif" font-weight="bold" font-size="50" fill="#6fdc4a" textLength="95" lengthAdjust="spacingAndGlyphs">81%</text>
<line x1="1206" y1="1369" x2="1328" y2="1369" stroke="#ff7300" stroke-width="6.3"/>
<text x="1348" y="1378" font-family="Liberation Sans, Arial, sans-serif" font-weight="bold" font-size="50" fill="#ff7300" textLength="95" lengthAdjust="spacingAndGlyphs">60%</text>
<line x1="1206" y1="1439" x2="1328" y2="1439" stroke="#ffc800" stroke-width="6.3"/>
<text x="1346" y="1448" font-family="Liberation Sans, Arial, sans-serif" font-weight="bold" font-size="50" fill="#ffc800" textLength="97" lengthAdjust="spacingAndGlyphs">41%</text>
<line x1="1208.7" y1="1511.9" x2="1331.7" y2="1511.9" stroke="#8a35b0" stroke-width="6.3"/>
<text x="1351.5" y="1521.6" font-family="Liberation Sans, Arial, sans-serif" font-weight="bold" font-size="50" fill="#8a35b0" textLength="95" lengthAdjust="spacingAndGlyphs">20%</text>
<line x1="1208.7" y1="1577.2" x2="1331.7" y2="1577.2" stroke="#00b050" stroke-width="6.3"/>
<text x="1351.5" y="1591.5" font-family="Liberation Sans, Arial, sans-serif" font-weight="bold" font-size="50" fill="#00b050" textLength="95" lengthAdjust="spacingAndGlyphs">11%</text>
<line x1="1208.7" y1="1653.6" x2="1331.7" y2="1653.6" stroke="#ff0000" stroke-width="6.3"/>
<text x="1351.5" y="1667" font-family="Liberation Sans, Arial, sans-serif" font-weight="bold" font-size="50" fill="#ff0000" textLength="66.5" lengthAdjust="spacingAndGlyphs">5%</text>
<line x1="1208.7" y1="1725.4" x2="1331.7" y2="1725.4" stroke="#0000ff" stroke-width="6.3"/>
<text x="1351.5" y="1738.6" font-family="Liberation Sans, Arial, sans-serif" font-weight="bold" font-size="50" fill="#1010ff" textLength="274.5" lengthAdjust="spacingAndGlyphs">Dehydrated</text>
<path d="M158.5 1134.7V1749.2H965.4M147 1749.2H158.5" fill="none" stroke="#333" stroke-width="2.6"/>
<path d="M147 1749.2H158.5M152 1672.5H158.5M147 1595.8H158.5M152 1519.1H158.5M147 1442.4H158.5M152 1365.7H158.5M147 1289H158.5M152 1212.3H158.5M147 1135.6H158.5M180.8 1749.2V1761.2M226.9 1749.2V1755.2M273.1 1749.2V1761.2M319.2 1749.2V1755.2M365.3 1749.2V1761.2M411.4 1749.2V1755.2M457.6 1749.2V1761.2M503.7 1749.2V1755.2M549.8 1749.2V1761.2M595.9 1749.2V1755.2M642 1749.2V1761.2M688.2 1749.2V1755.2M734.3 1749.2V1761.2M780.4 1749.2V1755.2M826.5 1749.2V1761.2M872.7 1749.2V1755.2M918.8 1749.2V1761.2M965.4 1749.2V1755" stroke="#333" stroke-width="2.4"/>
<text x="143.5" y="1765.9" font-family="Liberation Sans, Arial, sans-serif" font-weight="bold" font-size="30" text-anchor="end">0</text>
<text x="143.5" y="1612.5" font-family="Liberation Sans, Arial, sans-serif" font-weight="bold" font-size="30" text-anchor="end">20</text>
<text x="143.5" y="1459.1" font-family="Liberation Sans, Arial, sans-serif" font-weight="bold" font-size="30" text-anchor="end">40</text>
<text x="143.5" y="1305.7" font-family="Liberation Sans, Arial, sans-serif" font-weight="bold" font-size="30" text-anchor="end">60</text>
<text x="143.5" y="1152.3" font-family="Liberation Sans, Arial, sans-serif" font-weight="bold" font-size="30" text-anchor="end">80</text>
<text x="183.3" y="1796.6" font-family="Liberation Sans, Arial, sans-serif" font-weight="bold" font-size="31.5" text-anchor="middle">0</text>
<text x="275.6" y="1796.6" font-family="Liberation Sans, Arial, sans-serif" font-weight="bold" font-size="31.5" text-anchor="middle">20</text>
<text x="367.8" y="1796.6" font-family="Liberation Sans, Arial, sans-serif" font-weight="bold" font-size="31.5" text-anchor="middle">40</text>
<text x="460.1" y="1796.6" font-family="Liberation Sans, Arial, sans-serif" font-weight="bold" font-size="31.5" text-anchor="middle">60</text>
<text x="552.3" y="1796.6" font-family="Liberation Sans, Arial, sans-serif" font-weight="bold" font-size="31.5" text-anchor="middle">80</text>
<text x="644.5" y="1796.6" font-family="Liberation Sans, Arial, sans-serif" font-weight="bold" font-size="31.5" text-anchor="middle">100</text>
<text x="736.8" y="1796.6" font-family="Liberation Sans, Arial, sans-serif" font-weight="bold" font-size="31.5" text-anchor="middle">120</text>
<text x="829" y="1796.6" font-family="Liberation Sans, Arial, sans-serif" font-weight="bold" font-size="31.5" text-anchor="middle">140</text>
<text x="921.3" y="1796.6" font-family="Liberation Sans, Arial, sans-serif" font-weight="bold" font-size="31.5" text-anchor="middle">160</text>
<text x="448" y="1846.5" font-family="Liberation Sans, Arial, sans-serif" font-weight="bold" font-size="36.5" textLength="277" lengthAdjust="spacingAndGlyphs">Pore-filling (%)</text>
<text transform="translate(77.8,1637) rotate(-90)" font-family="Liberation Sans, Arial, sans-serif" font-weight="bold" font-size="38.3" textLength="392" lengthAdjust="spacingAndGlyphs">Dielectric Permittivity</text>
<path d="M205.7 1419.4V1588.1M199.7 1419.4H211.7M199.7 1588.1H211.7M231.5 1549.8V1626.5M225.5 1549.8H237.5M225.5 1626.5H237.5M275.4 1580.5V1626.5M269.4 1580.5H281.4M269.4 1626.5H281.4" stroke="#9a9a9a" stroke-width="2.4" fill="none"/>
<polyline points="205.7,1505.3 231.5,1588.9 275.4,1604.2 372.2,1608.8 455.7,1598.9 555.8,1601.2 638.4,1578.2 747.2,1508.4 868.1,1444.7" fill="none" stroke="#000" stroke-width="2.6"/>
<circle cx="205.7" cy="1505.3" r="12" fill="#000"/>
<circle cx="231.5" cy="1588.9" r="12" fill="#000"/>
<circle cx="275.4" cy="1604.2" r="12" fill="#000"/>
<circle cx="372.2" cy="1608.8" r="12" fill="#000"/>
<circle cx="455.7" cy="1598.9" r="12" fill="#000"/>
<circle cx="555.8" cy="1601.2" r="12" fill="#000"/>
<circle cx="638.4" cy="1578.2" r="12" fill="#000"/>
<circle cx="747.2" cy="1508.4" r="12" fill="#000"/>
<circle cx="868.1" cy="1444.7" r="12" fill="#000"/>
<path d="M1609.4 1548.3L1767.4 1547.9L1802.9 1547.3L1825.9 1546.4L1834.9 1545.6L1842.2 1544.7L1848.2 1543.5L1853.2 1542L1857.4 1540.1L1860.9 1537.8L1863.9 1535L1866.7 1531.4L1869.4 1526.2L1871.7 1519.9L1873.4 1513L1875.2 1503.4L1876.7 1492L1877.9 1478.9L1879.9 1447.5L1881.4 1410L1882.7 1364.2L1883.9 1300.7L1886.4 1141.6L1887.2 1113.4L1887.4 1109.4L1887.7 1108.5L1888.2 1115.8L1888.9 1146.9L1891.2 1291.8L1892.4 1357.6L1893.7 1405.3L1895.2 1444.4L1897.2 1477.1L1898.4 1490.6L1899.9 1502.5L1901.7 1512.3L1903.4 1519.4L1905.4 1525.2L1907.9 1530.3L1910.4 1534L1913.4 1537L1916.7 1539.4L1920.7 1541.4L1925.4 1543L1931.2 1544.3L1937.9 1545.4L1946.2 1546.1L1967.4 1547.2L2000.4 1547.8L2143.7 1548.3V1550.4H1609.4Z" fill="#6e6eff" stroke="#7777ff" stroke-width="1"/>
<path d="M1609.4 1549.7L1704.7 1549.3L1758.9 1548.6L1790.2 1547.4L1829.7 1544.4L1842.9 1543.9L1855.7 1544.4L1882.4 1546.5L1897.9 1547.5L1915.4 1548.2L1936.4 1548.8L2006.4 1549.5L2143.7 1549.8" fill="none" stroke="#8b008b" stroke-width="3.2"/>
<path d="M1609.4 1547.6L1679.7 1547L1727.2 1545.9L1745.4 1545.1L1760.7 1544.2L1773.7 1543.1L1784.9 1541.7L1794.7 1539.9L1803.2 1537.9L1810.4 1535.4L1816.9 1532.4L1822.7 1528.8L1827.7 1524.6L1832.2 1519.7L1836.2 1514L1839.9 1507.2L1843.2 1499.7L1846.4 1490.3L1849.4 1479.8L1853.9 1460L1863.2 1412.4L1866.2 1400.4L1870.7 1386.2L1872.4 1379.9L1874.2 1371.4L1875.7 1361.1L1876.9 1349.5L1878.2 1334.3L1880.4 1293.8L1882.4 1239.2L1885.7 1126.3L1886.7 1103.4L1887.4 1097.3L1887.7 1097.7L1888.2 1102.3L1889.2 1125.3L1892.9 1274.7L1894.7 1332.2L1896.7 1380.4L1898.9 1418.1L1900.4 1436.6L1902.2 1453.5L1904.2 1468.4L1906.2 1480L1908.4 1490.2L1911.2 1499.8L1914.2 1507.7L1917.4 1514.2L1921.2 1520L1925.4 1524.9L1930.2 1529L1935.7 1532.5L1941.9 1535.4L1949.2 1537.9L1957.7 1540L1967.4 1541.7L1978.7 1543.1L1991.7 1544.3L2006.9 1545.2L2025.2 1545.9L2072.9 1547L2143.7 1547.6" fill="none" stroke="#ff0000" stroke-width="3.6"/>
<path d="M1609.4 1547.7L1666.2 1547.2L1707.9 1546.5L1739.4 1545.6L1763.7 1544.2L1782.9 1542.3L1790.9 1541.2L1798.2 1539.8L1804.7 1538.2L1810.4 1536.5L1815.7 1534.4L1820.4 1532.1L1824.7 1529.5L1828.7 1526.6L1832.4 1523.1L1835.7 1519.5L1838.7 1515.6L1841.7 1510.8L1844.4 1505.6L1846.9 1500L1851.4 1487.5L1855.7 1472.3L1859.2 1457.2L1865.9 1424.7L1868.4 1414.4L1869.9 1409.7L1871.2 1406.8L1872.4 1405L1873.7 1404.4L1874.9 1405.1L1876.2 1406.9L1877.4 1409.9L1878.9 1414.8L1881.4 1425.2L1887.9 1456.5L1891.7 1472.7L1895.9 1487.8L1900.4 1500.2L1903.2 1506.3L1905.9 1511.4L1908.9 1516.1L1911.9 1520L1915.2 1523.5L1918.9 1526.9L1922.9 1529.8L1927.4 1532.4L1932.4 1534.8L1937.7 1536.8L1943.7 1538.5L1950.2 1540L1957.4 1541.4L1965.7 1542.5L1985.2 1544.3L2009.9 1545.7L2042.2 1546.6L2085.2 1547.2L2143.7 1547.7" fill="none" stroke="#008000" stroke-width="3.4"/>
<text x="1959.5" y="1504.6" font-family="Liberation Sans, Arial, sans-serif" font-weight="bold" font-size="36" textLength="99" lengthAdjust="spacingAndGlyphs">149%</text>
<path d="M1609.4 1820.9L1762.9 1820.7L1798.7 1820.5L1822.2 1820.1L1838.9 1819.4L1850.4 1818.3L1858.7 1816.6L1861.9 1815.5L1864.9 1814L1867.7 1812.2L1870.2 1809.7L1872.2 1807L1873.9 1803.8L1875.4 1800.1L1876.9 1795.1L1878.2 1789.7L1879.4 1782.4L1880.9 1770.5L1882.4 1753.6L1883.9 1730.2L1886.7 1676.9L1887.4 1666.9L1888.2 1663L1888.4 1663.3L1888.9 1666L1889.7 1675.3L1892.4 1728.4L1893.9 1752.3L1895.4 1769.6L1896.9 1781.8L1899.2 1793.7L1900.7 1799.1L1902.2 1803L1903.9 1806.5L1905.9 1809.3L1908.2 1811.7L1910.9 1813.7L1913.7 1815.1L1916.7 1816.3L1920.4 1817.3L1924.7 1818.1L1935.7 1819.3L1951.2 1820L1972.9 1820.5L2005.9 1820.7L2143.7 1820.9V1823H1609.4Z" fill="#6e6eff" stroke="#7777ff" stroke-width="1"/>
<path d="M1609.4 1822.4L1705.9 1822.2L1760.7 1821.8L1792.2 1821.2L1831.9 1819.7L1844.9 1819.5L1857.9 1819.7L1900.2 1821.3L1938.4 1821.9L2007.9 1822.3L2143.7 1822.4" fill="none" stroke="#8b008b" stroke-width="3.2"/>
<path d="M1609.4 1820.4L1675.9 1819.9L1722.2 1819.2L1755.4 1818.1L1779.7 1816.4L1789.7 1815.3L1798.4 1813.9L1805.9 1812.3L1812.7 1810.4L1818.7 1808.1L1823.9 1805.5L1828.4 1802.5L1832.7 1799L1835.4 1796.1L1837.9 1793L1840.4 1789.4L1842.7 1785.5L1844.9 1780.9L1846.9 1776.2L1850.7 1765.1L1854.2 1751.5L1857.7 1734L1860.9 1714.1L1866.9 1673.1L1869.9 1657L1871.2 1652.3L1872.7 1648.6L1874.2 1646.6L1876.7 1645.1L1877.7 1644.1L1878.7 1642.2L1879.7 1638.9L1880.9 1631.7L1882.2 1620.2L1885.9 1564.4L1886.7 1557.3L1887.2 1555.6L1887.7 1556.7L1887.9 1558.5L1888.9 1572.5L1892.4 1658.2L1894.2 1693.1L1896.2 1721.6L1898.4 1743.4L1899.9 1754L1901.7 1763.6L1903.7 1772L1905.7 1778.6L1908.2 1785L1910.9 1790.4L1913.9 1795L1917.4 1799.1L1921.4 1802.7L1925.9 1805.7L1930.9 1808.3L1936.7 1810.5L1943.4 1812.4L1950.9 1814L1959.7 1815.4L1969.7 1816.5L1994.2 1818.1L2027.9 1819.2L2075.2 1820L2143.7 1820.4" fill="none" stroke="#ff0000" stroke-width="3.6"/>
<path d="M1609.4 1820.4L1668.9 1819.9L1711.9 1819.3L1744.2 1818.4L1768.4 1817.1L1787.4 1815.3L1795.4 1814.1L1802.4 1812.7L1808.7 1811.2L1814.4 1809.4L1819.4 1807.3L1824.2 1804.9L1828.4 1802.1L1832.2 1799.1L1835.7 1795.6L1838.9 1791.6L1841.9 1787.1L1844.7 1782.2L1847.2 1776.8L1849.7 1770.3L1853.7 1757.5L1857.7 1740.7L1861.2 1722.6L1867.2 1688L1869.4 1676.9L1871.7 1669.3L1872.9 1667L1873.9 1666.4L1874.9 1666.8L1876.2 1668.8L1877.4 1672.3L1878.7 1677.2L1880.9 1688.3L1886.9 1722.9L1890.4 1740.9L1894.4 1757.6L1898.7 1771.2L1901.2 1777.5L1903.7 1782.8L1906.4 1787.6L1909.4 1792L1912.7 1795.9L1916.2 1799.4L1919.9 1802.4L1924.2 1805.1L1928.9 1807.5L1933.9 1809.5L1939.7 1811.3L1946.2 1812.9L1953.4 1814.2L1961.4 1815.4L1980.9 1817.2L2005.7 1818.5L2038.4 1819.4L2082.7 1820L2143.7 1820.4" fill="none" stroke="#008000" stroke-width="3.4"/>
<text x="1964.4" y="1775" font-family="Liberation Sans, Arial, sans-serif" font-weight="bold" font-size="36" textLength="99" lengthAdjust="spacingAndGlyphs">123%</text>
<path d="M1609.4 1979.9L1801.7 1979.7L1833.7 1979.4L1851.7 1978.7L1858.2 1978.1L1863.4 1977.3L1867.7 1976.2L1871.2 1974.7L1873.9 1973L1876.4 1970.9L1883.4 1962.4L1884.7 1961.6L1885.7 1961.4L1886.9 1961.8L1888.2 1962.8L1893.2 1969L1895.4 1971.4L1897.7 1973.3L1899.9 1974.7L1903.4 1976.1L1907.4 1977.2L1912.4 1978L1918.7 1978.6L1935.9 1979.3L1966.2 1979.7L2143.7 1979.9V1981.9H1609.4Z" fill="#6e6eff" stroke="#7777ff" stroke-width="1"/>
<path d="M1609.4 1979L1663.4 1978.5L1703.9 1977.7L1734.9 1976.7L1758.9 1975.2L1778.2 1973.2L1786.4 1971.9L1793.7 1970.5L1800.2 1968.9L1806.2 1967L1811.4 1964.9L1816.4 1962.4L1820.7 1959.9L1824.7 1957L1828.4 1953.6L1831.9 1949.9L1835.2 1945.7L1838.2 1941.2L1840.9 1936.3L1843.7 1930.6L1848.4 1918.5L1852.9 1903.8L1856.9 1888.1L1864.2 1856.7L1866.9 1846.5L1868.7 1841.5L1870.2 1838.3L1871.7 1836.3L1873.2 1835.6L1874.2 1835.9L1875.2 1836.6L1877.4 1839.9L1879.9 1845.6L1882.4 1852.8L1885.9 1866L1892.2 1896L1895.2 1908.7L1898.9 1921.5L1903.2 1932.6L1905.7 1937.8L1908.4 1942.6L1911.4 1947L1914.4 1950.8L1917.7 1954.2L1921.4 1957.5L1925.4 1960.3L1929.9 1963L1934.9 1965.3L1940.4 1967.4L1946.4 1969.2L1953.2 1970.8L1960.7 1972.2L1968.9 1973.4L1988.7 1975.4L2013.4 1976.8L2045.4 1977.8L2087.4 1978.6L2143.7 1979.1" fill="none" stroke="#ff0000" stroke-width="3.6"/>
<path d="M1609.4 1979L1663.2 1978.6L1703.4 1977.9L1734.2 1976.9L1758.2 1975.5L1777.4 1973.6L1785.7 1972.4L1792.9 1971.1L1799.4 1969.6L1805.4 1967.8L1810.7 1965.8L1815.7 1963.6L1820.2 1961L1824.2 1958.3L1827.9 1955.1L1831.4 1951.6L1834.7 1947.7L1837.7 1943.4L1840.4 1938.8L1843.2 1933.5L1847.9 1922.1L1852.4 1908.3L1856.2 1894.5L1863.4 1865.1L1866.2 1855.5L1867.7 1851.4L1869.2 1848.3L1870.7 1846.5L1871.9 1845.9L1873.2 1846.3L1874.7 1848L1876.2 1850.9L1877.7 1854.9L1880.4 1864.4L1887.9 1894.7L1891.9 1909.3L1896.4 1922.9L1901.2 1934.1L1903.9 1939.4L1906.9 1944.3L1909.9 1948.4L1913.2 1952.2L1916.7 1955.6L1920.4 1958.7L1924.7 1961.5L1929.2 1964L1934.2 1966.2L1939.7 1968.1L1945.9 1969.9L1952.7 1971.4L1968.4 1973.8L1988.2 1975.7L2012.9 1977L2045.2 1978L2087.2 1978.6L2143.7 1979.1" fill="none" stroke="#008000" stroke-width="3.4"/>
<text x="2005" y="1949" font-family="Liberation Sans, Arial, sans-serif" font-weight="bold" font-size="36" textLength="78" lengthAdjust="spacingAndGlyphs">99%</text>
<path d="M1609.4 2103.1L1703.4 2102.8L1758.9 2102.4L1791.2 2101.7L1834.4 2100L1849.2 2099.7L1863.4 2100L1908.9 2101.8L1947.7 2102.5L2016.4 2102.9L2143.7 2103.1" fill="none" stroke="#8b008b" stroke-width="3.2"/>
<path d="M1609.4 2101L1661.4 2100.5L1700.7 2100L1730.9 2099.1L1754.4 2098L1773.4 2096.5L1788.7 2094.5L1801.2 2091.8L1806.7 2090.2L1811.7 2088.4L1816.2 2086.4L1820.2 2084.3L1823.9 2081.9L1827.4 2079.2L1830.7 2076.2L1833.7 2072.9L1836.7 2069.1L1839.4 2065.1L1844.2 2056.5L1848.9 2045.7L1852.9 2034.7L1860.4 2012L1863.4 2004.2L1864.9 2001.2L1866.4 1998.9L1867.9 1997.5L1869.4 1997L1870.9 1997.5L1872.4 1998.9L1873.9 2001.2L1875.4 2004.2L1878.4 2012L1885.9 2034.7L1890.2 2046.3L1894.9 2057L1899.7 2065.5L1902.7 2069.8L1905.7 2073.5L1908.9 2076.9L1912.2 2079.8L1915.7 2082.4L1919.7 2084.9L1923.9 2087L1928.4 2088.9L1933.7 2090.7L1939.2 2092.2L1952.4 2094.8L1968.4 2096.8L1988.4 2098.2L2013.4 2099.3L2045.7 2100.1L2087.7 2100.6L2143.7 2101" fill="none" stroke="#ff0000" stroke-width="3.6"/>
<path d="M1609.4 2101L1661.4 2100.5L1700.7 2100L1730.9 2099.1L1754.4 2098L1773.4 2096.5L1788.7 2094.5L1801.2 2091.8L1806.7 2090.2L1811.7 2088.4L1816.2 2086.4L1820.2 2084.3L1823.9 2081.9L1827.4 2079.2L1830.7 2076.2L1833.7 2072.9L1836.7 2069.1L1839.4 2065.1L1844.2 2056.5L1848.9 2045.7L1852.9 2034.7L1860.4 2012L1863.4 2004.2L1864.9 2001.2L1866.4 1998.9L1867.9 1997.5L1869.4 1997L1870.9 1997.5L1872.4 1998.9L1873.9 2001.2L1875.4 2004.2L1878.4 2012L1885.9 2034.7L1890.2 2046.3L1894.9 2057L1899.7 2065.5L1902.7 2069.8L1905.7 2073.5L1908.9 2076.9L1912.2 2079.8L1915.7 2082.4L1919.7 2084.9L1923.9 2087L1928.4 2088.9L1933.7 2090.7L1939.2 2092.2L1952.4 2094.8L1968.4 2096.8L1988.4 2098.2L2013.4 2099.3L2045.7 2100.1L2087.7 2100.6L2143.7 2101" fill="none" stroke="#008000" stroke-width="3.4"/>
<text x="2016.3" y="2080.3" font-family="Liberation Sans, Arial, sans-serif" font-weight="bold" font-size="36" textLength="78" lengthAdjust="spacingAndGlyphs">81%</text>
<line x1="1609.4" y1="2113.7" x2="2143.7" y2="2113.7" stroke="#000" stroke-width="4"/>
<path d="M1653.2 2113.7V2120M1742.3 2113.7V2120M1831.3 2113.7V2120M1920.4 2113.7V2120M2009.4 2113.7V2120M2098.5 2113.7V2120" stroke="#000" stroke-width="3.5"/>
<text x="1657.7" y="2155.8" font-family="Liberation Sans, Arial, sans-serif" font-weight="bold" font-size="29.5" text-anchor="middle" textLength="39" lengthAdjust="spacingAndGlyphs">10</text>
<text x="1746.8" y="2155.8" font-family="Liberation Sans, Arial, sans-serif" font-weight="bold" font-size="29.5" text-anchor="middle" textLength="18" lengthAdjust="spacingAndGlyphs">8</text>
<text x="1835.8" y="2155.8" font-family="Liberation Sans, Arial, sans-serif" font-weight="bold" font-size="29.5" text-anchor="middle" textLength="18" lengthAdjust="spacingAndGlyphs">6</text>
<text x="1924.9" y="2155.8" font-family="Liberation Sans, Arial, sans-serif" font-weight="bold" font-size="29.5" text-anchor="middle" textLength="18" lengthAdjust="spacingAndGlyphs">4</text>
<text x="2013.9" y="2155.8" font-family="Liberation Sans, Arial, sans-serif" font-weight="bold" font-size="29.5" text-anchor="middle" textLength="18" lengthAdjust="spacingAndGlyphs">2</text>
<text x="2103" y="2155.8" font-family="Liberation Sans, Arial, sans-serif" font-weight="bold" font-size="29.5" text-anchor="middle" textLength="19.6" lengthAdjust="spacingAndGlyphs">0</text>
<text x="1783" y="2199.6" font-family="Liberation Sans, Arial, sans-serif" font-weight="bold" font-size="31.6" textLength="175" lengthAdjust="spacingAndGlyphs"><tspan font-style="italic">δ</tspan>(<tspan font-size="20" dy="-11">1</tspan><tspan dy="11">H)/ppm</tspan></text>
</svg></body></html>
